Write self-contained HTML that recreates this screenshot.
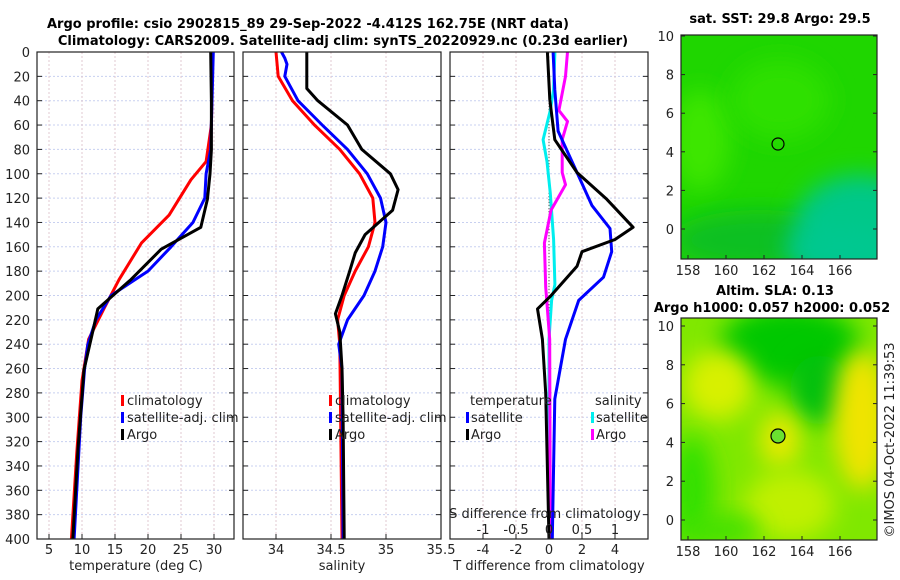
<!DOCTYPE html>
<html><head><meta charset="utf-8"><style>
body{margin:0;background:#fff;}
svg{display:block;font-family:"DejaVu Sans","Liberation Sans",sans-serif;}
.t{font-size:13px;fill:#222}
.b{font-size:13px;font-weight:bold;fill:#000}
</style></head><body>
<svg id="c" width="900" height="580" viewBox="0 0 900 580">
<defs>
<filter id="bl" x="-50%" y="-50%" width="200%" height="200%"><feGaussianBlur stdDeviation="12"/></filter>
<clipPath id="m1c"><rect x="681" y="35" width="196" height="224"/></clipPath>
<clipPath id="m2c"><rect x="681" y="318" width="196" height="222"/></clipPath>
</defs>
<text class="b" x="308" y="28" text-anchor="middle">Argo profile: csio 2902815_89 29-Sep-2022 -4.412S 162.75E (NRT data)</text>
<text class="b" x="343" y="45" text-anchor="middle">Climatology: CARS2009. Satellite-adj clim: synTS_20220929.nc (0.23d earlier)</text>
<g id="grid"></g>
<g id="lines"></g>
<g id="frames"></g>
<g clip-path="url(#m1c)">
<rect x="681" y="35" width="196" height="224" fill="#1fd600"/>
<ellipse cx="700" cy="140" rx="30" ry="50" fill="#3ee600" filter="url(#bl)"/>
<ellipse cx="780" cy="100" rx="50" ry="40" fill="#2ee000" filter="url(#bl)"/>
<ellipse cx="760" cy="240" rx="90" ry="30" fill="#10c020" filter="url(#bl)"/>
<ellipse cx="860" cy="225" rx="65" ry="50" fill="#00c888" filter="url(#bl)"/>
<ellipse cx="840" cy="250" rx="55" ry="25" fill="#00c890" filter="url(#bl)"/>
<circle cx="778" cy="144" r="6" fill="none" stroke="#000" stroke-width="1.2"/>
</g>
<rect x="681" y="35" width="196" height="224" fill="none" stroke="#222" stroke-width="1.2"/>
<text class="b" x="780" y="23" text-anchor="middle">sat. SST: 29.8 Argo: 29.5</text>
<g clip-path="url(#m2c)">
<rect x="681" y="318" width="196" height="222" fill="#80e800"/>
<ellipse cx="790" cy="345" rx="70" ry="40" fill="#00c800" filter="url(#bl)"/>
<ellipse cx="820" cy="390" rx="30" ry="35" fill="#00c010" filter="url(#bl)"/>
<ellipse cx="718" cy="385" rx="35" ry="35" fill="#d8f000" filter="url(#bl)"/>
<ellipse cx="692" cy="490" rx="22" ry="55" fill="#30e000" filter="url(#bl)"/>
<ellipse cx="862" cy="420" rx="28" ry="70" fill="#f0e400" filter="url(#bl)"/>
<ellipse cx="780" cy="440" rx="20" ry="28" fill="#e8ea00" filter="url(#bl)"/>
<ellipse cx="790" cy="505" rx="45" ry="35" fill="#c0f000" filter="url(#bl)"/>
<ellipse cx="720" cy="530" rx="40" ry="15" fill="#40e000" filter="url(#bl)"/>
<circle cx="778" cy="436" r="7" fill="#6ae030" stroke="#000" stroke-width="1.2"/>
</g>
<rect x="681" y="318" width="196" height="222" fill="none" stroke="#222" stroke-width="1.2"/>
<text class="b" x="775" y="295" text-anchor="middle">Altim. SLA: 0.13</text>
<text class="b" x="772" y="312" text-anchor="middle">Argo h1000: 0.057 h2000: 0.052</text>
<text class="t" transform="translate(894,440) rotate(-90)" text-anchor="middle">©IMOS 04-Oct-2022 11:39:53</text>
<g id="mapaxes"></g>
<g id="legends">
<rect x="121" y="395" width="3" height="11" fill="#f00"/><text class="t" x="127" y="405">climatology</text>
<rect x="121" y="412" width="3" height="11" fill="#00f"/><text class="t" x="127" y="422">satellite-adj. clim</text>
<rect x="121" y="429" width="3" height="11" fill="#000"/><text class="t" x="127" y="439">Argo</text>
<rect x="329" y="395" width="3" height="11" fill="#f00"/><text class="t" x="335" y="405">climatology</text>
<rect x="329" y="412" width="3" height="11" fill="#00f"/><text class="t" x="335" y="422">satellite-adj. clim</text>
<rect x="329" y="429" width="3" height="11" fill="#000"/><text class="t" x="335" y="439">Argo</text>
<text class="t" x="470" y="405">temperature</text>
<rect x="466" y="412" width="3" height="11" fill="#00f"/><text class="t" x="471" y="422">satellite</text>
<rect x="466" y="429" width="3" height="11" fill="#000"/><text class="t" x="471" y="439">Argo</text>
<text class="t" x="595" y="405">salinity</text>
<rect x="591" y="412" width="3" height="11" fill="#0ee"/><text class="t" x="596" y="422">satellite</text>
<rect x="591" y="429" width="3" height="11" fill="#f0f"/><text class="t" x="596" y="439">Argo</text>
</g>
<text class="t" x="136" y="570" text-anchor="middle">temperature (deg C)</text>
<text class="t" x="342" y="570" text-anchor="middle">salinity</text>
<text class="t" x="549" y="570" text-anchor="middle">T difference from climatology</text>
<text class="t" x="545" y="518" text-anchor="middle">S difference from climatology</text>
</svg>
<script>
const depthT=[0,40,80,100,121,144,162,187,211,228,261,326,400];
const argoT=[29.5,29.6,29.6,29.4,29.0,28.0,22,17.4,12.4,11.7,10.3,9.4,8.6];
const depthC=[0,60,90,105,134,157,187,211,236,270,330,400];
const climT=[29.8,29.6,28.8,26.5,23.2,19,15.6,13.3,11,10,9.2,8.4];
const depthS=[0,80,100,120,140,160,180,200,220,240,260,300,400];
const satT=[29.9,29.5,28.8,28.6,26.8,23.5,20,14.4,12.1,10.9,10.4,9.8,8.8];
const depthAS=[0,30,40,60,80,100,113,130,150,165,180,200,215,230,260,300,400];
const argoS=[34.28,34.28,34.38,34.65,34.78,35.04,35.11,35.06,34.81,34.72,34.67,34.6,34.54,34.58,34.6,34.61,34.62];
const depthCS=[0,20,40,60,80,100,120,140,160,180,200,220,240,400];
const climS=[34.0,34.02,34.15,34.35,34.58,34.76,34.88,34.9,34.84,34.72,34.62,34.56,34.58,34.6];
const depthSS=[0,5,10,20,40,60,80,100,120,140,160,180,200,220,240,260,400];
const satS=[34.05,34.08,34.1,34.08,34.2,34.42,34.65,34.83,34.95,35.0,34.97,34.9,34.8,34.65,34.57,34.6,34.61];
const depthD=[0,39,72,99,121,144,154,164,176,201,211,236,280,400];
const argoDT=[-0.1,0.05,0.35,1.7,3.5,5.1,4.0,2.0,1.7,0.06,-0.7,-0.4,-0.2,0];
const depthDB=[0,31,65,99,126,145,164,185,204,236,285,400];
const satDT=[0.25,0.35,0.55,1.7,2.6,3.7,3.8,3.3,1.8,1.0,0.35,0.2];
const depthDS=[0,31,48,72,90,116,154,191,204,236,400];
const satDS=[0.09,0.07,0.02,-0.09,-0.03,0.02,0.07,0.09,0.04,0,0];
const depthDM=[0,20,48,57,72,99,109,130,157,193,236,400];
const argoDS=[0.28,0.25,0.15,0.28,0.2,0.2,0.25,0.03,-0.07,-0.05,0.01,0.02];
const depthTicks=[0,20,40,60,80,100,120,140,160,180,200,220,240,260,280,300,320,340,360,380,400];
const tTicks=[5,10,15,20,25,30];
const sTicks=[34,34.5,35,35.5];
const dtTicks=[-4,-2,0,2,4];
const dsTicks=[-1,-0.5,0,0.5,1];
const lonTicks=[158,160,162,164,166];
const latTicks=[0,2,4,6,8,10];

const NS='http://www.w3.org/2000/svg';
const Y=d=>52+d*1.2175;
const XT=v=>49+(v-5)*6.6;
const XS=v=>276+(v-34)*110;
const XDT=v=>549+v*16.5;
const XDS=v=>549+v*66;
const panels=[[37,234],[243,441],[450,648]];
function mk(tag,at,parent){const e=document.createElementNS(NS,tag);for(const k in at)e.setAttribute(k,at[k]);parent.appendChild(e);return e;}
const G=document.getElementById('grid'),L=document.getElementById('lines'),F=document.getElementById('frames'),MA=document.getElementById('mapaxes');
function txt(x,y,s,anchor,parent){const t=mk('text',{x:x,y:y,class:'t','text-anchor':anchor},parent);t.textContent=s;return t;}
panels.forEach((p,i)=>{
  depthTicks.forEach(d=>{
    const g=mk('line',{x1:p[0],x2:p[1],y1:Y(d),y2:Y(d),stroke:'#c8d0f0','stroke-width':1,'stroke-dasharray':'2,2'},G);
    
    
    mk('line',{x1:p[0],x2:p[0]+5,y1:Y(d),y2:Y(d),stroke:'#222'},F);
    mk('line',{x1:p[1]-5,x2:p[1],y1:Y(d),y2:Y(d),stroke:'#222'},F);
    if(i===0){const t=txt(30,Y(d)+5,String(d),'end',F);
      
      }
  });
  const fr=mk('rect',{x:p[0],y:52,width:p[1]-p[0],height:487,fill:'none',stroke:'#222','stroke-width':1.2},F);
  
  
});
function vgrid(ticks,fx,labY){ticks.forEach(v=>{const x=fx(v);
  mk('line',{x1:x,x2:x,y1:52,y2:539,stroke:'#e0c8d0','stroke-width':1,'stroke-dasharray':'2,2'},G);
  mk('line',{x1:x,x2:x,y1:534,y2:539,stroke:'#222'},F);
  const t=txt(x,labY,String(v),'middle',F);
  
  });}
vgrid(tTicks,XT,554);
vgrid(sTicks,XS,554);
vgrid(dtTicks,XDT,554);
dsTicks.forEach(v=>{const t=txt(XDS(v),534,String(v),'middle',F);
  
  });
mk('line',{x1:549,x2:549,y1:Y(10),y2:539,stroke:'#444','stroke-width':1,'stroke-dasharray':'1,2'},L);
function line(ds,vs,fx,col,name){const pts=ds.map((d,i)=>fx(vs[i]).toFixed(1)+','+Y(d).toFixed(1)).join(' ');
  const p=mk('polyline',{points:pts,fill:'none',stroke:col,'stroke-width':3,'stroke-linejoin':'round'},L);
  
  }
line(depthC,climT,XT,'#f00','climatology-temperature-line');
line(depthS,satT,XT,'#00f','satellite-temperature-line');
line(depthT,argoT,XT,'#000','argo-temperature-line');
line(depthCS,climS,XS,'#f00','climatology-salinity-line');
line(depthSS,satS,XS,'#00f','satellite-salinity-line');
line(depthAS,argoS,XS,'#000','argo-salinity-line');
line(depthDS,satDS,XDS,'#0ee','satellite-salinity-diff-line');
line(depthDM,argoDS,XDS,'#f0f','argo-salinity-diff-line');
line(depthDB,satDT,XDT,'#00f','satellite-temperature-diff-line');
line(depthD,argoDT,XDT,'#000','argo-temperature-diff-line');
[[36,229,259,272],[326,520,540,553]].forEach(m=>{
  const top=m[0],zero=m[1],bot=m[2],ly=m[3];
  const yy=v=>zero-(zero-top)*v/10;
  latTicks.forEach(v=>{mk('line',{x1:681,x2:685,y1:yy(v),y2:yy(v),stroke:'#222'},MA);
    mk('line',{x1:873,x2:877,y1:yy(v),y2:yy(v),stroke:'#222'},MA);
    const t=txt(674,yy(v)+5,String(v),'end',MA);
    
    });
  lonTicks.forEach(v=>{const x=688+(v-158)*19;
    mk('line',{x1:x,x2:x,y1:bot-4,y2:bot,stroke:'#222'},MA);
    const t=txt(x,ly+3,String(v),'middle',MA);
    
    });
});
</script>
</body></html>
